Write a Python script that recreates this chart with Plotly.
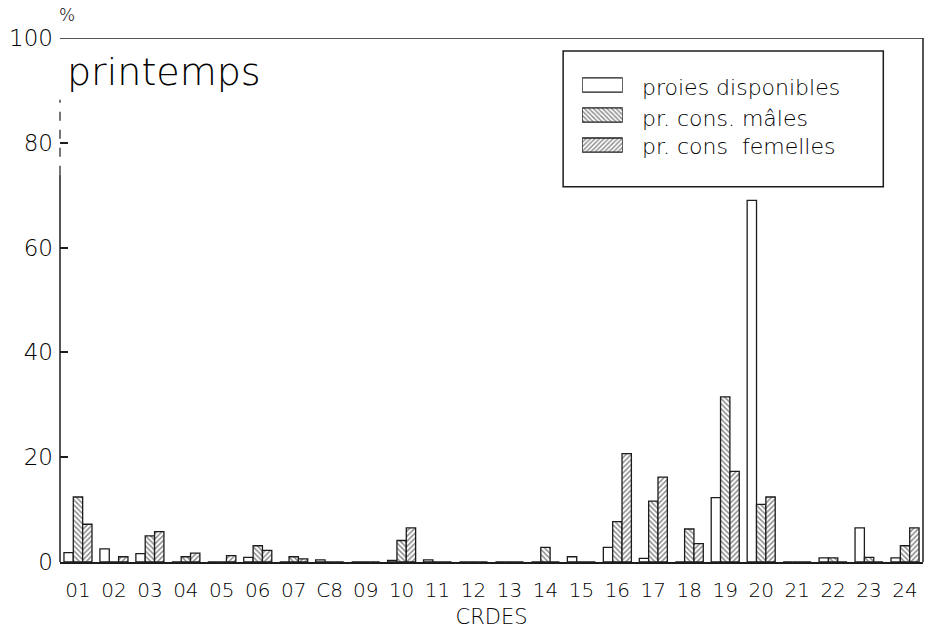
import plotly.graph_objects as go

# Prey orders (tick labels as printed on the figure)
ordres = ["01", "02", "03", "04", "05", "06", "07", "C8", "09", "10", "11", "12",
          "13", "14", "15", "16", "17", "18", "19", "20", "21", "22", "23", "24"]

# Percentages per order, spring
proies_disponibles = [1.8, 2.5, 1.6, 0.0, 0.0, 0.9, 0.0, 0.4, 0.0, 0.3, 0.4, 0.0,
                      0.0, 0.0, 1.0, 2.8, 0.7, 0.0, 12.3, 69.0, 0.0, 0.8, 6.5, 0.8]
cons_males = [12.4, 0.0, 5.0, 1.0, 0.0, 3.1, 1.0, 0.0, 0.0, 4.1, 0.0, 0.0,
              0.0, 2.8, 0.0, 7.7, 11.6, 6.3, 31.5, 11.0, 0.0, 0.8, 0.9, 3.1]
cons_femelles = [7.2, 1.0, 5.8, 1.7, 1.2, 2.2, 0.6, 0.0, 0.0, 6.5, 0.0, 0.0,
                 0.0, 0.0, 0.0, 20.7, 16.2, 3.5, 17.3, 12.4, 0.0, 0.0, 0.0, 6.5]

series_names = ["proies disponibles", "pr. cons. mâles", "pr. cons  femelles"]
series_patterns = ["", "\\", "/"]
y_ticks = [0, 20, 40, 60, 80, 100]

INK = "#1c1c1c"
TXT = "#000000"
FONT = "DejaVu Sans"
LIGHT = 200

fig = go.Figure()
for name, vals, pat in zip(series_names,
                           [proies_disponibles, cons_males, cons_femelles],
                           series_patterns):
    fig.add_trace(go.Bar(
        x=ordres, y=vals, name=name,
        marker=dict(color="white",
                    line=dict(color=INK, width=1.3),
                    pattern=dict(shape=pat, fgcolor=INK, bgcolor="white",
                                 size=3.6, solidity=0.45)),
        xaxis="x", yaxis="y", showlegend=False,
    ))

# Legend swatches drawn as small patterned bars on a hidden helper axis
fig.add_trace(go.Bar(
    x=[1, 1, 1], y=[0, 1, 2], orientation="h", base=0, width=0.47,
    marker=dict(color="white",
                line=dict(color=INK, width=1.3),
                pattern=dict(shape=series_patterns, fgcolor=INK,
                             bgcolor="white", size=3.2, solidity=0.45)),
    xaxis="x2", yaxis="y2", showlegend=False, hoverinfo="skip",
))

fig.update_layout(
    width=928, height=639,
    margin=dict(l=60, r=5, t=38, b=77),
    paper_bgcolor="white", plot_bgcolor="white",
    barmode="group", bargap=0.22, bargroupgap=0,
    font=dict(family=FONT, color=TXT),
    showlegend=False,
    xaxis=dict(
        type="category", categoryorder="array", categoryarray=ordres,
        showline=True, linecolor=INK, linewidth=1.5,
        showgrid=False, zeroline=False, ticks="",
        tickfont=dict(size=20, family=FONT, color=TXT, weight=LIGHT),
        ticklabelstandoff=9,
        title=dict(text="CRDES",
                   font=dict(size=21, family=FONT, color=TXT, weight=LIGHT),
                   standoff=9),
    ),
    yaxis=dict(
        range=[0, 100], tickvals=y_ticks,
        showline=False, showgrid=False, zeroline=False,
        ticks="inside", ticklen=8, tickwidth=1.5, tickcolor=INK,
        tickfont=dict(size=23, family=FONT, color=TXT, weight=LIGHT),
        ticklabelstandoff=6,
    ),
    xaxis2=dict(domain=[0.605, 0.652], range=[0, 1], anchor="y2",
                visible=False, fixedrange=True),
    yaxis2=dict(domain=[0.767, 0.939], range=[2.5, -0.5], anchor="x2",
                visible=False, fixedrange=True),
)

# Frame: left axis (partly dashed), top and right edges
line = dict(color=INK, width=1.5)
fig.add_shape(type="line", xref="paper", yref="y", x0=0, x1=0, y0=0, y1=73.9, line=line)
fig.add_shape(type="line", xref="paper", yref="y", x0=0, x1=0, y0=73.9, y1=88.2,
              line=dict(color=INK, width=1.2, dash="dash"))
fig.add_shape(type="line", xref="paper", yref="y", x0=0, x1=1, y0=100, y1=100, line=line)
fig.add_shape(type="line", xref="paper", yref="y", x0=1, x1=1, y0=0, y1=100, line=line)

# Legend box and labels
fig.add_shape(type="rect", xref="paper", yref="paper",
              x0=0.583, x1=0.954, y0=0.716, y1=0.975,
              line=dict(color=INK, width=1.5), fillcolor="rgba(0,0,0,0)")
for name, yp in zip(series_names, [0.906, 0.847, 0.792]):
    fig.add_annotation(text=name, xref="paper", yref="paper", x=0.672, y=yp,
                       xanchor="left", yanchor="middle", showarrow=False,
                       font=dict(size=22, family=FONT, color=TXT, weight=LIGHT))

# Season label and unit
fig.add_annotation(text="printemps", xref="paper", yref="paper", x=0.006, y=0.935,
                   xanchor="left", yanchor="middle", showarrow=False,
                   font=dict(size=38, family=FONT, color=TXT, weight=LIGHT))
fig.add_annotation(text="%", xref="paper", yref="paper", x=0.008, y=1.044,
                   xanchor="center", yanchor="middle", showarrow=False,
                   font=dict(size=17, family=FONT, color=TXT, weight=LIGHT))

fig.write_html("out.html")
